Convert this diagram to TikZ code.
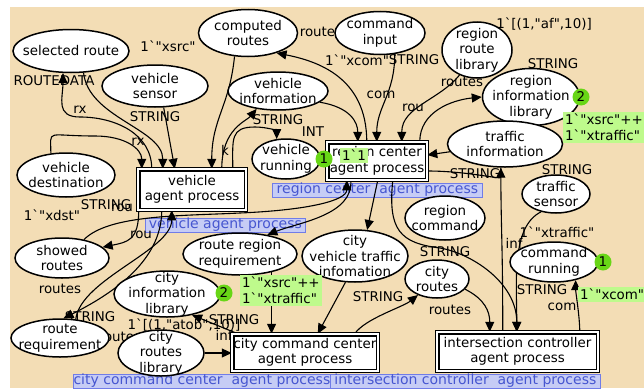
\documentclass[tikz,border=0pt]{standalone}
\usepackage{fontspec}
\newfontfamily\cpnfont{DejaVu Sans}
\usetikzlibrary{shapes.geometric,arrows.meta}
\definecolor{canvas}{RGB}{243,221,181}
\definecolor{tokgreen}{RGB}{104,214,22}
\definecolor{toklight}{RGB}{190,250,140}
\definecolor{tagfill}{RGB}{198,204,245}
\definecolor{tagline}{RGB}{112,124,232}
\definecolor{tagtext}{RGB}{70,86,208}
\newcommand{\gq}{\textasciigrave}
\pgfdeclarelayer{bg}
\pgfdeclarelayer{lab}
\pgfdeclarelayer{arcl}
\pgfdeclarelayer{top}
\pgfsetlayers{bg,lab,arcl,main,top}
\begin{document}
\begin{tikzpicture}[x=1pt,y=-1pt,
  every node/.style={font=\cpnfont\fontsize{13.4}{15.5}\selectfont},
  place/.style={ellipse,draw,line width=1.5pt,fill=white,inner sep=0pt},
  ptext/.style={label={[align=center]center:{#1}}},
  trans/.style={rectangle,draw,line width=1.1pt,double=white,double distance=2.2pt,fill=white,align=center,inner sep=0pt},
  arc/.style={line width=1.1pt,-{Triangle[length=10pt,width=9pt]}},
  plain/.style={line width=1.1pt},
  lbl/.style={inner sep=0pt},
  tok/.style={circle,fill=tokgreen,inner sep=0pt,minimum size=17pt},
  toklbl/.style={fill=toklight,align=left,inner sep=2pt},
  tag/.style={fill=tagfill,draw=tagline,line width=0.8pt,text=tagtext,inner sep=0pt,minimum height=14pt,font=\cpnfont\fontsize{14}{16}\selectfont},
  tagmark/.style={fill=tagfill!70!tagline}
]
\useasboundingbox (0,0) rectangle (644,388);
\begin{pgfonlayer}{bg}
  \fill[canvas] (10,7) rectangle (644,388);
\end{pgfonlayer}

% ---------- places ----------
\node[place,minimum width=116pt,minimum height=43pt,ptext={selected route}] (selr) at (71,51) {};
\node[place,minimum width=106pt,minimum height=42pt,ptext={vehicle\\sensor}] (vsens) at (155,86) {};
\node[place,minimum width=99pt,minimum height=47pt,ptext={computed\\routes}] (comp) at (248,33) {};
\node[place,minimum width=90pt,minimum height=43pt,ptext={command\\input}] (cmdin) at (380,33) {};
\node[place,minimum width=100pt,minimum height=38pt,ptext={vehicle\\information}] (vinfo) at (278,91) {};
\node[place,minimum width=70pt,minimum height=56pt,ptext={region\\route\\library}] (rrl) at (477,50) {};
\node[place,minimum width=97pt,minimum height=57pt,ptext={region\\information\\library}] (ril) at (531,97) {};
\node[place,minimum width=115pt,minimum height=46pt,ptext={traffic\\information}] (tinfo) at (505,144) {};
\node[place,minimum width=68pt,minimum height=38pt,ptext={traffic\\sensor}] (tsens) at (556,194) {};
\node[place,minimum width=88pt,minimum height=40pt,ptext={command\\running}] (cmdrun) at (554,262) {};
\node[place,minimum width=80pt,minimum height=44pt,ptext={region\\command}] (rcmd) at (445,218) {};
\node[place,minimum width=64pt,minimum height=38pt,ptext={city\\routes}] (croutes) at (437,279) {};
\node[place,minimum width=68pt,minimum height=40pt,ptext={vehicle\\running}] (vrun) at (286,159) {};
\node[place,minimum width=98pt,minimum height=44pt,ptext={vehicle\\destination}] (vdest) at (66,175) {};
\node[place,minimum width=94pt,minimum height=40pt,ptext={showed\\routes}] (showr) at (62,258) {};
\node[place,minimum width=114pt,minimum height=42pt,ptext={route region\\requirement}] (rrr) at (240,254) {};
\node[place,minimum width=106pt,minimum height=52pt,ptext={city\\vehicle traffic\\infomation}] (cvti) at (355,256) {};
\node[place,minimum width=106pt,minimum height=46pt,ptext={city\\information\\library}] (cil) at (167,294) {};
\node[place,minimum width=98pt,minimum height=38pt,ptext={route\\requirement}] (rreq) at (60,338) {};
\node[place,minimum width=86pt,minimum height=46pt,ptext={city\\routes\\library}] (crl) at (161,353) {};

% ---------- transitions ----------
\node[trans,minimum width=107.4pt,minimum height=40.4pt] (vap) at (192,189.5) {vehicle\\agent process};
\node[trans,minimum width=99.4pt,minimum height=37.4pt] (rcap) at (377,161) {region center\\agent process};
\node[trans,minimum width=145.4pt,minimum height=36.4pt] (cccap) at (305,352.5) {city command center\\agent process};
\node[trans,minimum width=160.4pt,minimum height=38.4pt] (icap) at (517.5,351.5) {intersection controller\\agent process};

% ---------- substitution tags ----------
\begin{pgfonlayer}{lab}
\node[tag,anchor=west,minimum width=210pt] (rcaptag) at (272,190) {region center\ \ agent process};
\node[tag,anchor=west,minimum width=160pt] (vaptag) at (145,225) {vehicle agent process};
\node[tag,anchor=west,minimum width=257pt] (cctag) at (73,381) {city command center\ \ agent process};
\node[tag,anchor=west,minimum width=270pt] (ictag) at (330,381) {intersection controller\ \ agent process};
\fill[tagmark] (rcap.south west) -- ++(0,-7) -- ++(8,7) -- cycle;
\fill[tagmark] (vap.south west) -- ++(0,-7) -- ++(8,7) -- cycle;
\fill[tagmark] (cccap.south west) -- ++(0,-7) -- ++(8,7) -- cycle;
\fill[tagmark] (icap.south west) -- ++(0,-7) -- ++(8,7) -- cycle;

% ---------- inscriptions ----------
\node[lbl] (l01) at (168,46) {1\gq"xsrc"};
\node[lbl] (l02) at (54,81) {ROUTEDATA};
\node[lbl] (l03) at (80,110) {rx};
\node[lbl] (l04) at (155,117) {STRING};
\node[lbl] (l05) at (138,142) {rx};
\node[lbl] (l06) at (225,150) {k};
\node[lbl] (l07) at (278,120) {STRING};
\node[lbl] (l08) at (313,132) {INT};
\node[lbl] (l09) at (321,32) {routes};
\node[lbl] (l10) at (357,60) {1\gq"xcom"};
\node[lbl] (l11) at (414,60) {STRING};
\node[lbl] (l12) at (381,95) {com};
\node[lbl] (l13) at (413,108) {rou};
\node[lbl] (l14) at (462,82) {routes};
\node[lbl] (l15) at (544,24) {1\gq[(1,"af",10)]};
\node[lbl] (l16) at (553,64) {STRING};
\node[lbl] (l17) at (475,174) {STRING};
\node[lbl] (l18) at (567,170) {STRING};
\node[lbl] (l19) at (557,232) {1\gq"xtraffic"};
\node[lbl] (l20) at (514,243) {inf};
\node[lbl] (l21) at (445,252) {STRING};
\node[lbl] (l22) at (542,290) {STRING};
\node[lbl] (l23) at (562,307) {com};
\node[lbl] (l24) at (450,310) {routes};
\node[lbl] (l25) at (378,297) {STRING};
\node[lbl] (l26) at (234,320) {STRING};
\node[lbl] (l27) at (224,335) {inf};
\node[lbl] (l28) at (184,325) {1\gq[(1,"atob",10)]};
\node[lbl] (l29) at (120,337) {routes};
\node[lbl] (l30) at (90,317) {STRING};
\node[lbl] (l31) at (60,289) {routes};
\node[lbl] (l32) at (141,235) {rou};
\node[lbl] (l33) at (106,205) {STRING};
\node[lbl] (l34) at (122,208) {rou};
\node[lbl] (l35) at (52,215) {1\gq"xdst"};
\end{pgfonlayer}

% ---------- arcs ----------
\begin{pgfonlayer}{arcl}
% vehicle agent process
\draw[arc] (selr.-60) .. controls +(5,45) and +(0,-40) .. ([xshift=25pt]vap.north west);
\draw[arc] ([xshift=14pt]vap.north west) .. controls +(0,-35) and +(35,0) .. (80,117) .. controls +(-25,0) and +(0,25) .. (selr.-110);
\draw[arc] (vsens.-68) -- ([xshift=37pt]vap.north west);
\draw[arc] (vdest.125) .. controls +(0,-25) and +(-50,0) .. (95,136) .. controls +(30,0) and +(0,-20) .. ([xshift=4pt]vap.north west);
\draw[arc] (comp.-120) .. controls +(-5,50) and +(0,-50) .. ([xshift=74pt]vap.north west);
\draw[arc] ([xshift=84pt]vap.north west) .. controls +(0,-40) and +(-10,12) .. (vinfo.-140);
\draw[arc] ([xshift=95pt]vap.north west) .. controls +(0,-30) and +(-25,0) .. (255,127) .. controls +(12,0) and +(0,-8) .. (vrun.115);
\draw[arc] ([xshift=1pt]vap.south west) .. controls +(0,30) and +(25,-5) .. (showr.15);
\draw[arc] ([xshift=24pt]vap.south west) .. controls +(0,45) and +(60,-30) .. (rreq.80);
\draw[arc] (rreq.50) .. controls +(5,-40) and +(0,40) .. ([xshift=34pt]vap.south west);
\draw[arc] (showr.40) .. controls +(25,-25) and +(-60,3) .. (240,213) .. controls +(70,-3) and +(0,20) .. ([xshift=20pt]rcap.south west);

% region center agent process
\draw[arc] (vinfo.-15) .. controls +(30,5) and +(0,-20) .. ([xshift=31pt]rcap.north west);
\draw[arc] ([xshift=40pt]rcap.north west) .. controls +(0,-65) and +(40,8) .. (comp.-35);
\draw[arc] (cmdin.-55) .. controls +(0,40) and +(0,-35) .. ([xshift=50pt]rcap.north west);
\draw[arc] (rrl.-125) .. controls +(-20,25) and +(0,-35) .. ([xshift=75pt]rcap.north west);
\draw[arc] ([xshift=93pt]rcap.north west) .. controls +(0,-30) and +(-30,3) .. (ril.180);
\draw[arc] (tinfo.188) -- ([yshift=6pt]rcap.east);
\draw[arc] ([yshift=-10pt]rcap.east) .. controls +(40,0) and +(0,12) .. (tinfo.-100);
\draw[arc] ([xshift=51pt]rcap.south west) -- (cvti.65);
\draw[arc] ([xshift=24pt]rcap.south west) .. controls +(3,35) and +(30,-12) .. (rrr.35);
\draw[arc] ([xshift=66pt]rcap.south west) .. controls +(-5,50) and +(-40,-5) .. (440,248) .. controls +(30,5) and +(0,-50) .. ([xshift=80pt]icap.north west);

% intersection controller agent process
\draw[plain] ([xshift=66pt]icap.north west) .. controls +(0,-90) and +(0,60) .. (tinfo.-100);
\draw[arc] (tsens.-130) .. controls +(-30,15) and +(0,-50) .. ([xshift=80pt]icap.north west);
\draw[arc] (croutes.-20) .. controls +(20,10) and +(0,-20) .. ([xshift=53pt]icap.north west);
\draw[arc] ([xshift=143pt]icap.north west) .. controls +(0,-15) and +(0,12) .. (cmdrun.-40);

% city command center agent process
\draw[arc] (crl.east) -- (crl.east -| cccap.west);
\draw[arc] ([xshift=6pt]cccap.north west) -- (cil.-40);
\draw[arc] (rrr.-30) -- (rrr.-30 |- cccap.north);
\draw[arc] (cvti.-110) -- ([xshift=86pt]cccap.north west);
\draw[arc] ([xshift=123pt]cccap.north west) .. controls +(10,-15) and +(-15,12) .. (croutes.-140);
\end{pgfonlayer}

% ---------- markings ----------
\begin{pgfonlayer}{top}
\node[tok] (tokril) at (581,97) {2};
\node[toklbl,anchor=north west] (tokrillab) at (563,112) {1\gq"xsrc"++\\1\gq"xtraffic"};
\node[tok] (tokvrun) at (324,159) {1};
\node[toklbl,anchor=north west] (tokvrunlab) at (340,148) {1\gq 1};
\node[tok] (tokcil) at (224,293) {2};
\node[toklbl,anchor=north west] (tokcillab) at (240,275) {1\gq"xsrc"++\\1\gq"xtraffic"};
\node[tok] (tokcmd) at (603,262) {1};
\node[toklbl,anchor=north west] (tokcmdlab) at (578,287) {1\gq"xcom"};
\end{pgfonlayer}
\end{tikzpicture}
\end{document}
